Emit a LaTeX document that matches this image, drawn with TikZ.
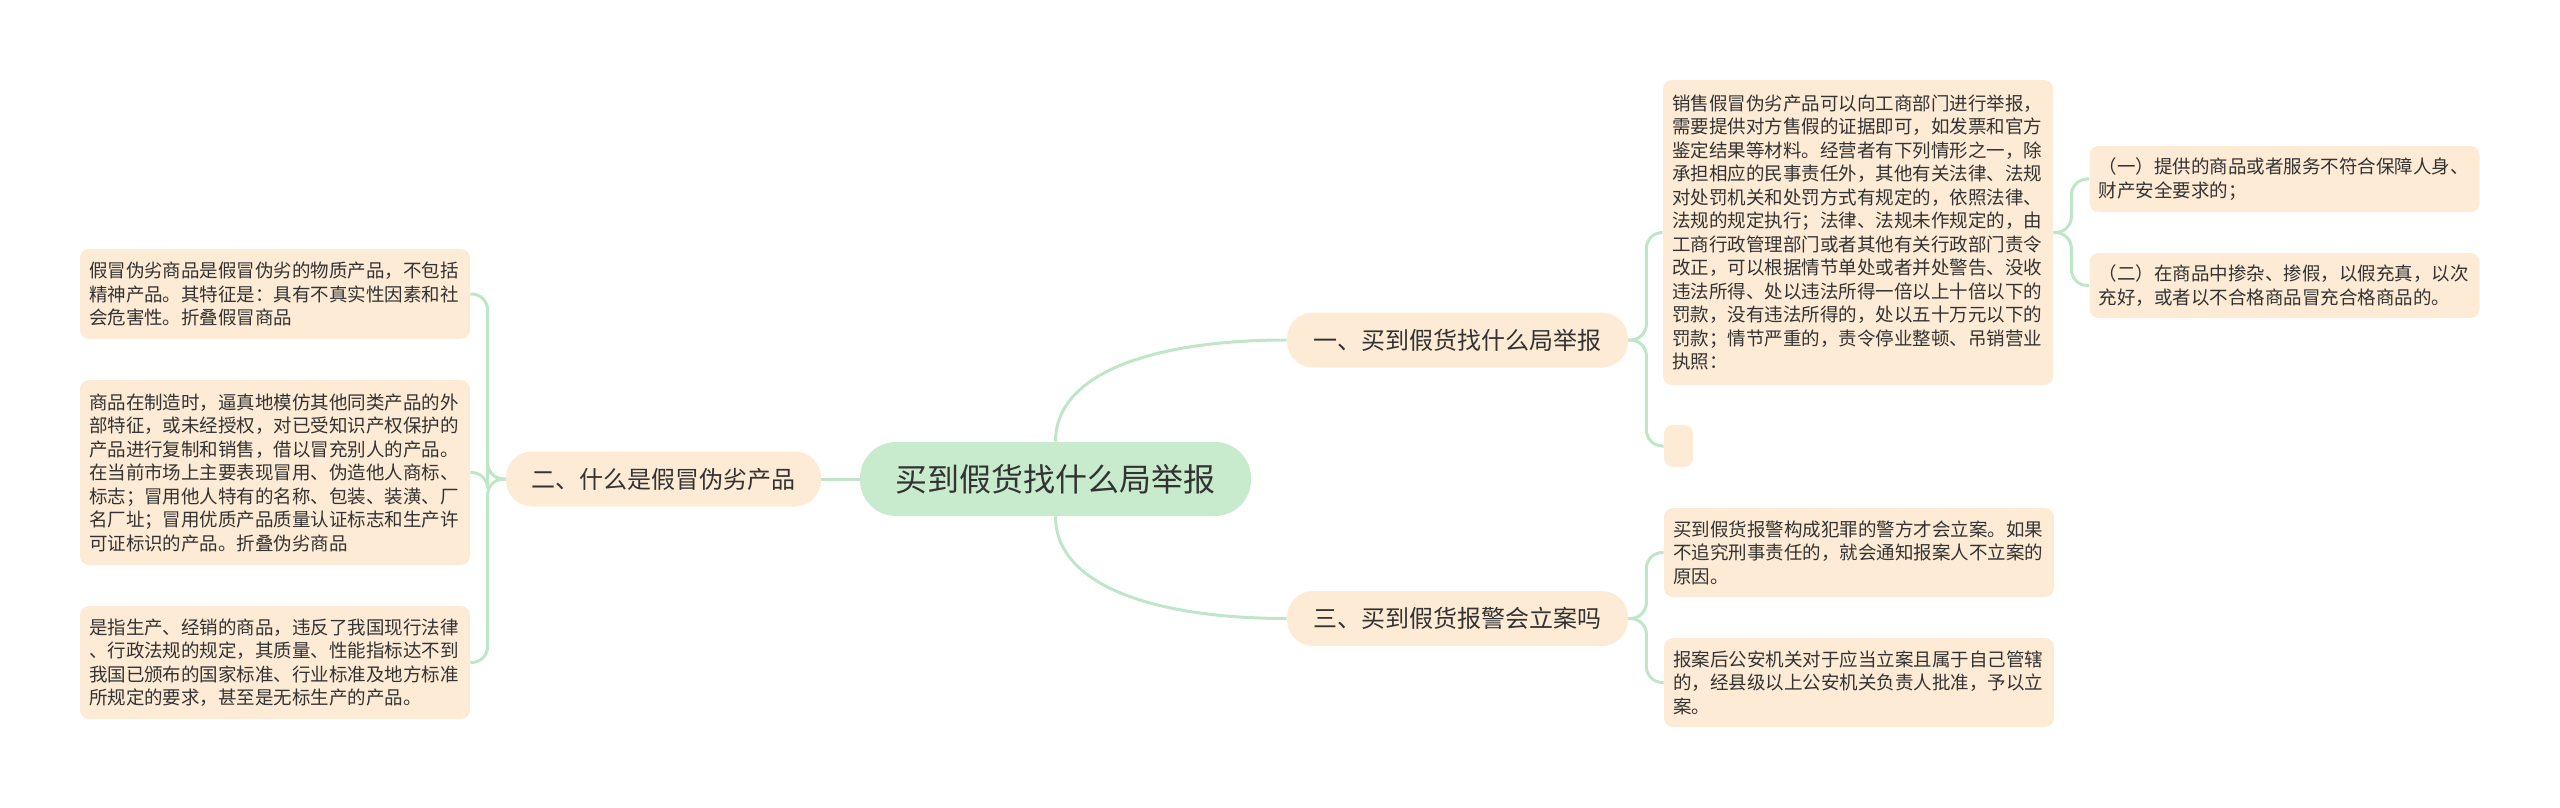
\documentclass[tikz,border=0pt]{standalone}
\usepackage{fontspec}
\setmainfont{Noto Sans CJK SC}
\definecolor{rootfill}{RGB}{199,235,204}
\definecolor{leaffill}{RGB}{253,235,213}
\definecolor{linkgreen}{RGB}{190,230,199}
\definecolor{ink}{RGB}{51,51,51}

\begin{document}
\begin{tikzpicture}[x=0.5pt, y=-0.5pt,
    link/.style={draw=linkgreen, line width=1.5pt},
    bracket/.style={link, rounded corners=8pt},
    rootbox/.style={fill=rootfill, rounded corners=18pt, minimum width=195.5pt, minimum height=37pt,
        font=\fontsize{16}{19}\selectfont, text=ink},
    branchbox/.style={fill=leaffill, rounded corners=13pt, minimum height=27.5pt,
        font=\fontsize{12}{14}\selectfont, text=ink},
    leafbox/.style={fill=leaffill, rounded corners=4.5pt, text width=186pt, inner xsep=4.5pt, inner ysep=0pt,
        align=left, font=\fontsize{9.25}{11.75}\selectfont, text=ink},
    blankbox/.style={fill=leaffill, rounded corners=4.5pt, inner sep=0pt, minimum width=14.5pt, minimum height=21pt}]
    \useasboundingbox (0,0) rectangle (2560,808);

    % centre and the three branches
    \node[rootbox] (root) at (1055.5,479) {买到假货找什么局举报};
    \node[branchbox, minimum width=170.5pt] (one) at (1457.5,340) {一、买到假货找什么局举报};
    \node[branchbox, minimum width=157.5pt] (two) at (663.5,479) {二、什么是假冒伪劣产品};
    \node[branchbox, minimum width=170.5pt] (three) at (1457.5,618.5) {三、买到假货报警会立案吗};

    \draw[link] (root.north) .. controls +(0,-70) and +(-130,0) .. (one.west);
    \draw[link] (root.south) .. controls +(0,70) and +(-130,0) .. (three.west);
    \draw[link] (root.west) -- (two.east);

    % branch one
    \node[leafbox, minimum height=152.5pt] (law) at (1858,232.5) {销售假冒伪劣产品可以向工商部门进行举报，\\
        需要提供对方售假的证据即可，如发票和官方\\
        鉴定结果等材料。经营者有下列情形之一，除\\
        承担相应的民事责任外，其他有关法律、法规\\
        对处罚机关和处罚方式有规定的，依照法律、\\
        法规的规定执行；法律、法规未作规定的，由\\
        工商行政管理部门或者其他有关行政部门责令\\
        改正，可以根据情节单处或者并处警告、没收\\
        违法所得、处以违法所得一倍以上十倍以下的\\
        罚款，没有违法所得的，处以五十万元以下的\\
        罚款；情节严重的，责令停业整顿、吊销营业\\
        执照：};
    \node[blankbox] (blank) at (1678.5,446) {};
    \node[leafbox, minimum height=33pt] (case1) at (2284.5,179) {（一）提供的商品或者服务不符合保障人身、\\
        财产安全要求的；};
    \node[leafbox, minimum height=32.5pt] (case2) at (2284.5,285.5) {（二）在商品中掺杂、掺假，以假充真，以次\\
        充好，或者以不合格商品冒充合格商品的。};

    \draw[bracket] (one.east) -- ++(18,0) |- (law.west);
    \draw[bracket] (one.east) -- ++(18,0) |- (blank.west);
    \draw[bracket] (law.east) -- ++(18,0) |- (case1.west);
    \draw[bracket] (law.east) -- ++(18,0) |- (case2.west);

    % branch three
    \node[leafbox, minimum height=44.5pt] (police1) at (1859,552.5) {买到假货报警构成犯罪的警方才会立案。如果\\
        不追究刑事责任的，就会通知报案人不立案的\\
        原因。};
    \node[leafbox, minimum height=44.5pt] (police2) at (1859,682.5) {报案后公安机关对于应当立案且属于自己管辖\\
        的，经县级以上公安机关负责人批准，予以立\\
        案。};

    \draw[bracket] (three.east) -- ++(18,0) |- (police1.west);
    \draw[bracket] (three.east) -- ++(18,0) |- (police2.west);

    % branch two
    \node[leafbox, minimum height=45pt] (fake1) at (275,294) {假冒伪劣商品是假冒伪劣的物质产品，不包括\\
        精神产品。其特征是：具有不真实性因素和社\\
        会危害性。折叠假冒商品};
    \node[leafbox, minimum height=92.5pt] (fake2) at (275,472.5) {商品在制造时，逼真地模仿其他同类产品的外\\
        部特征，或未经授权，对已受知识产权保护的\\
        产品进行复制和销售，借以冒充别人的产品。\\
        在当前市场上主要表现冒用、伪造他人商标、\\
        标志；冒用他人特有的名称、包装、装潢、厂\\
        名厂址；冒用优质产品质量认证标志和生产许\\
        可证标识的产品。折叠伪劣商品};
    \node[leafbox, minimum height=56.5pt] (fake3) at (275,662.5) {是指生产、经销的商品，违反了我国现行法律\\
        、行政法规的规定，其质量、性能指标达不到\\
        我国已颁布的国家标准、行业标准及地方标准\\
        所规定的要求，甚至是无标生产的产品。};

    \draw[bracket] (two.west) -- ++(-18,0) |- (fake1.east);
    \draw[bracket] (two.west) -- ++(-18,0) |- (fake2.east);
    \draw[bracket] (two.west) -- ++(-18,0) |- (fake3.east);
\end{tikzpicture}
\end{document}
